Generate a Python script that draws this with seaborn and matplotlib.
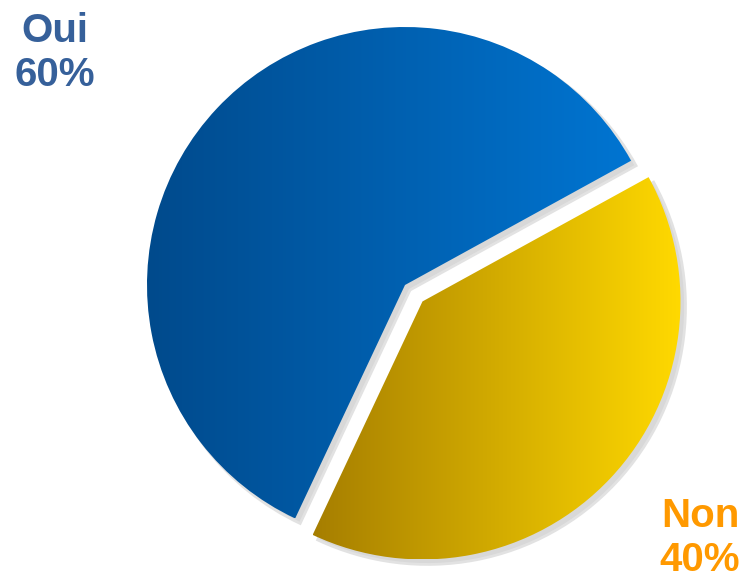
import numpy as np
import matplotlib
matplotlib.use("Agg")
import matplotlib.pyplot as plt
import seaborn as sns
from matplotlib.patches import Wedge

# data
labels = ["Oui", "Non"]
shares = [60, 40]
label_colors = ["#36609a", "#ff9900"]
gradients = [("#004a8c", "#0075d2"), ("#a67e00", "#ffd900")]

sns.set_theme(style="white")
plt.rcParams['font.family'] = ['Liberation Sans', 'DejaVu Sans']

W, H = 742, 581
fig = plt.figure(figsize=(W / 100, H / 100), dpi=100)
ax = fig.add_axes([0, 0, 1, 1])

cx, cy, r = 405, H - 285, 258
# pie explode is in data units here (pixels)
wedges, _ = ax.pie(shares, startangle=28.8, counterclock=True, center=(cx, cy),
                   radius=r, explode=[0, 24], frame=True,
                   wedgeprops=dict(linewidth=0, facecolor="none"))

for i, w in enumerate(wedges):
    # soft grey shadow, shifted down-right
    sh = Wedge((w.center[0] + 5, w.center[1] - 5), w.r, w.theta1, w.theta2,
               facecolor="#d8d8d8", edgecolor="#e2e2e2", lw=2, zorder=1)
    ax.add_patch(sh)
    ext = w.get_path().get_extents()
    cmap = sns.blend_palette(list(gradients[i]), n_colors=256, as_cmap=True)
    grad = np.linspace(0, 1, 256).reshape(1, -1)
    im = ax.imshow(grad, cmap=cmap, aspect="auto", zorder=2,
                   extent=(ext.x0, ext.x1, ext.y0, ext.y1), interpolation="bilinear")
    im.set_clip_path(w)

ax.text(55, H - 53, f"{labels[0]}\n{shares[0]}%", ha="center", va="center",
        fontsize=29, fontweight="bold", color=label_colors[0], linespacing=1.2)
ax.text(700, H - 538, f"{labels[1]}\n{shares[1]}%", ha="center", va="center",
        fontsize=29, fontweight="bold", color=label_colors[1], linespacing=1.2)

ax.set_xlim(0, W)
ax.set_ylim(0, H)
ax.set_aspect("equal")
ax.axis("off")
fig.savefig("out.png", dpi=100)
